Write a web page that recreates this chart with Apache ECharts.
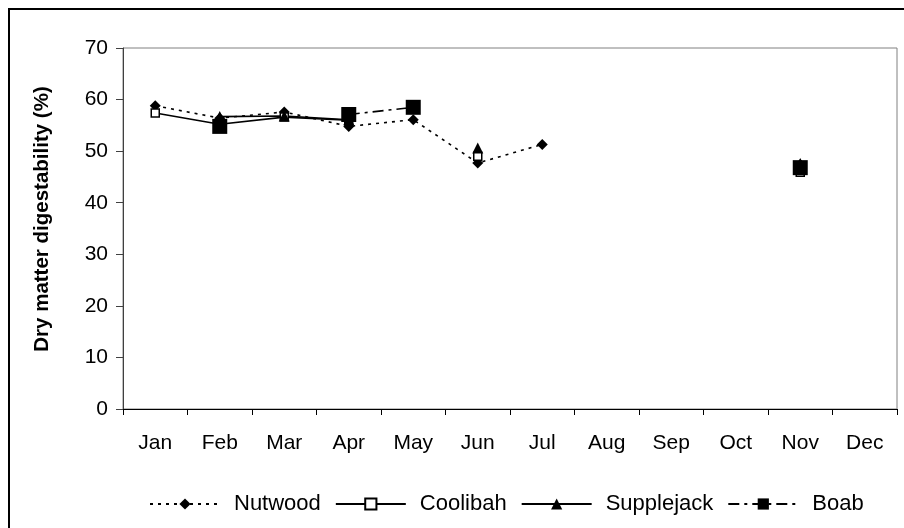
<!DOCTYPE html>
<html>
<head>
<meta charset="utf-8">
<script src="https://cdn.jsdelivr.net/npm/echarts@6/dist/echarts.min.js"></script>
<style>
  html, body { margin: 0; padding: 0; background: #fff; }
  #chart { width: 904px; height: 528px; }
</style>
</head>
<body>
<div id="chart"></div>
<script>
// Monthly dry matter digestibility (%) for four tree species
const months = ['Jan', 'Feb', 'Mar', 'Apr', 'May', 'Jun', 'Jul', 'Aug', 'Sep', 'Oct', 'Nov', 'Dec'];
const nutwood    = [58.8, 56.4, 57.6, 54.8, 56.1, 47.7, 51.3, null, null, null, 47.4, null];
const coolibah   = [57.4, 55.2, 56.6, 56.0, null, 49.0, null, null, null, null, 45.9, null];
const supplejack = [null, 56.7, 56.8, 56.1, null, 50.6, null, null, null, null, 47.6, null];
const boab       = [null, 54.8, null, 57.1, 58.5, null, null, null, null, null, 46.8, null];
const yTicks = { min: 0, max: 70, step: 10 };
const yTitle = 'Dry matter digestability (%)';

const font = 'Liberation Sans, Arial, sans-serif';
const chart = echarts.init(document.getElementById('chart'), null, { renderer: 'canvas' });

function lineSeries(name, data, symbol, size, lineType, fill) {
  return {
    name, type: 'line', data,
    connectNulls: false,
    symbol, symbolSize: size,
    showAllSymbol: true,
    lineStyle: { color: '#000', width: 1.6, type: lineType },
    itemStyle: { color: fill, borderColor: '#000', borderWidth: fill === '#fff' ? 1.5 : 0 },
    emphasis: { disabled: true },
    animation: false
  };
}

chart.setOption({
  animation: false,
  backgroundColor: '#fff',
  textStyle: { fontFamily: font },
  graphic: [{
    type: 'rect',
    shape: { x: 9, y: 9, width: 900, height: 530 },
    style: { fill: 'none', stroke: '#000', lineWidth: 2 },
    silent: true
  }, {
    // y-axis title, drawn rotated beside the value axis
    type: 'text',
    x: 42, y: 219,
    rotation: Math.PI / 2,
    style: {
      text: yTitle,
      font: 'bold 20.5px Liberation Sans, Arial, sans-serif',
      fill: '#000',
      align: 'center', verticalAlign: 'middle'
    },
    silent: true
  }],
  grid: {
    left: 123, right: 7, top: 48, bottom: 119,
    show: true, borderColor: '#808080', borderWidth: 1
  },
  legend: {
    bottom: 8, left: 144,
    itemWidth: 70, itemHeight: 14, itemGap: 14,
    textStyle: { fontSize: 22, color: '#000', fontFamily: font, padding: [0, 0, 0, 9] },
    data: ['Nutwood', 'Coolibah', 'Supplejack', 'Boab']
  },
  xAxis: {
    type: 'category', data: months, boundaryGap: true,
    axisLine: { lineStyle: { color: '#000', width: 1 } },
    axisTick: { show: true, length: 6, inside: false, lineStyle: { color: '#000' } },
    axisLabel: { fontSize: 21, color: '#000', margin: 24, fontFamily: font },
    splitLine: { show: false }
  },
  yAxis: {
    type: 'value', min: yTicks.min, max: yTicks.max, interval: yTicks.step,
    axisLine: { show: true, lineStyle: { color: '#404040', width: 1 } },
    axisTick: { show: true, length: 7, inside: false, lineStyle: { color: '#404040' } },
    axisLabel: { fontSize: 21, color: '#000', margin: 15, fontFamily: font },
    splitLine: { show: false }
  },
  series: [
    lineSeries('Nutwood', nutwood, 'diamond', 11, [3, 5], '#000'),
    lineSeries('Coolibah', coolibah, 'rect', 8, 'solid', '#fff'),
    lineSeries('Supplejack', supplejack, 'triangle', 11, 'solid', '#000'),
    lineSeries('Boab', boab, 'rect', 15, [11, 5, 3, 5], '#000')
  ]
});
</script>
</body>
</html>
